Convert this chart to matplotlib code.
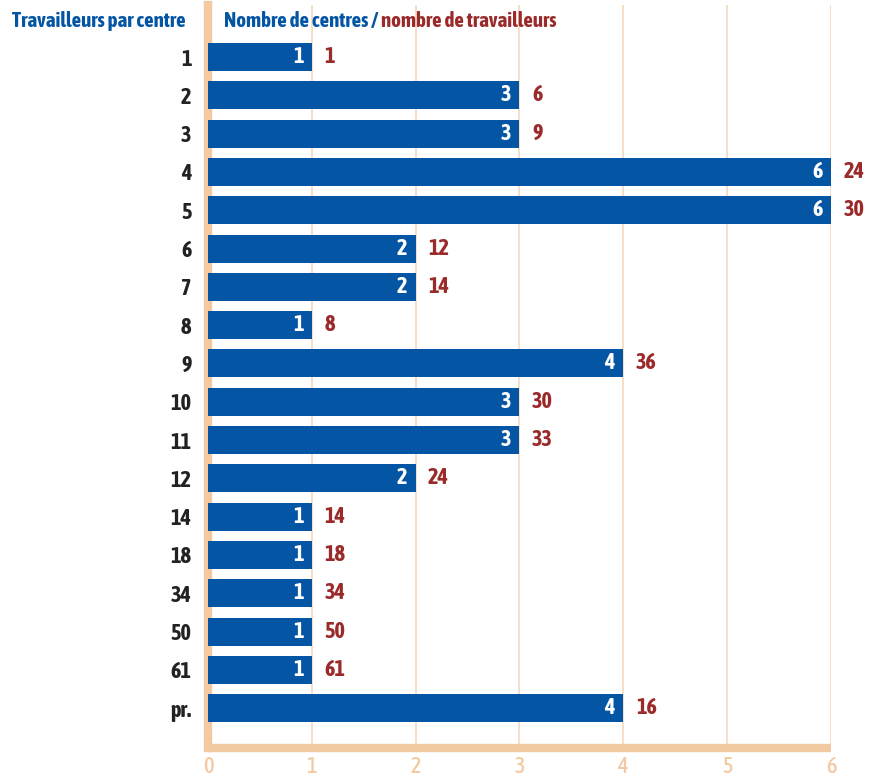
import matplotlib
matplotlib.use("Agg")
import matplotlib.pyplot as plt

plt.rcParams['font.family'] = ['Asap Condensed', 'Fira Sans Condensed', 'DejaVu Sans']
plt.rcParams['font.weight'] = 'bold'

# data
categories = ["1", "2", "3", "4", "5", "6", "7", "8", "9", "10", "11", "12",
              "14", "18", "34", "50", "61", "pr."]
centres = [1, 3, 3, 6, 6, 2, 2, 1, 4, 3, 3, 2, 1, 1, 1, 1, 1, 4]
travailleurs = [1, 6, 9, 24, 30, 12, 14, 8, 36, 30, 33, 24, 14, 18, 34, 50, 61, 16]

blue = "#0455A4"
red = "#9B2B2B"
tan = "#F2C9A0"
grid_c = "#F6D9BC"
FS = 16

fig = plt.figure(figsize=(8.72, 7.78), dpi=100)
ax = fig.add_axes([0.2385, 0.0386, 0.953 - 0.2385, 0.9936 - 0.0386])

y = list(range(len(categories)))
ax.barh(y, centres, height=0.73, color=blue, zorder=3)

# white count inside the bar, red worker total just outside
for yi, c, t in zip(y, centres, travailleurs):
    ax.text(c - 0.08, yi, str(c), color="white", fontsize=FS,
            ha="right", va="center", zorder=4)
    ax.text(c + 0.12, yi, str(t), color=red, fontsize=FS,
            ha="left", va="center", zorder=4)

ax.set_xlim(0, 6)
ax.set_ylim(18.04, -1.36)
ax.set_yticks(y)
ax.set_yticklabels(categories, fontsize=FS, color="#222222")
ax.set_xticks(range(7))
ax.tick_params(axis="x", colors=tan, labelsize=FS, length=0, pad=6)
ax.tick_params(axis="y", length=0, pad=12)
for lab in ax.get_xticklabels():
    lab.set_fontweight("medium")

ax.grid(axis="x", color=grid_c, linewidth=1.2, zorder=0)
for s in ["top", "right"]:
    ax.spines[s].set_visible(False)
ax.spines["left"].set_color(tan)
ax.spines["left"].set_linewidth(6)
ax.spines["bottom"].set_color(tan)
ax.spines["bottom"].set_linewidth(6)
ax.spines["bottom"].set_bounds(0, 6)
ax.spines["bottom"].set_capstyle("butt")

HFS = 15
fig.text(12 / 872, 1 - 21 / 778, "Travailleurs par centre", color=blue,
         fontsize=HFS, ha="left", va="center")
t1 = fig.text(224 / 872, 1 - 21 / 778, "Nombre de centres / ", color=blue,
              fontsize=HFS, ha="left", va="center")
fig.canvas.draw()
bb = t1.get_window_extent()
fig.text(bb.x1 / 872, 1 - 21 / 778, "nombre de travailleurs", color=red,
         fontsize=HFS, ha="left", va="center")

fig.savefig("out.png", dpi=100)
